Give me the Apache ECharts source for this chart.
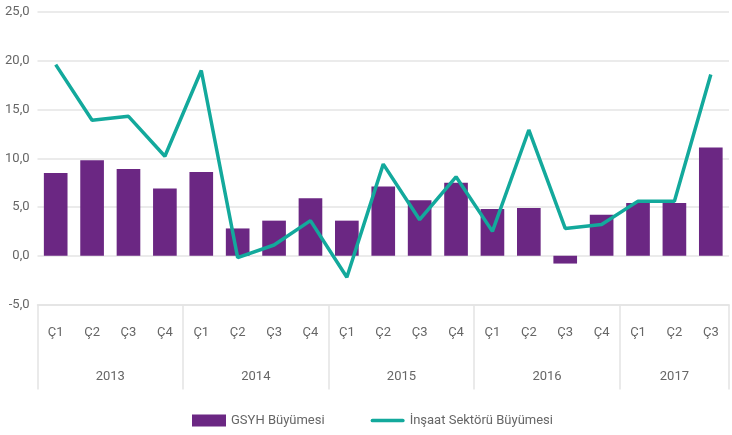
<!DOCTYPE html>
<html>
<head>
<meta charset="utf-8">
<script src="https://cdn.jsdelivr.net/npm/echarts@6/dist/echarts.min.js"></script>
<style>
  html, body { margin: 0; padding: 0; background: #fff; }
  #chart { width: 732px; height: 435px; }
</style>
</head>
<body>
<div id="chart"></div>
<script>
const quarters = ['Ç1', 'Ç2', 'Ç3', 'Ç4', 'Ç1', 'Ç2', 'Ç3', 'Ç4', 'Ç1', 'Ç2', 'Ç3', 'Ç4',
  'Ç1', 'Ç2', 'Ç3', 'Ç4', 'Ç1', 'Ç2', 'Ç3']
const years = ['2013', '2014', '2015', '2016', '2017']
const quartersPerYear = [4, 4, 4, 4, 3]
const gdpGrowth = [8.5, 9.8, 8.9, 6.9, 8.6, 2.8, 3.6, 5.9, 3.6, 7.1, 5.7, 7.5,
  4.8, 4.9, -0.8, 4.2, 5.4, 5.4, 11.1]
const constructionGrowth = [19.6, 13.9, 14.3, 10.2, 19.0, -0.2, 1.1, 3.6, -2.2, 9.4, 3.7, 8.1,
  2.5, 12.9, 2.8, 3.2, 5.6, 5.6, 18.6]
const yTicks = [-5, 0, 5, 10, 15, 20, 25]

const font = "Roboto, 'Liberation Sans Narrow', sans-serif"
const textColor = '#666666'
const gridColor = '#e4e4e4'

// year label sits in the middle of its quarters
let yearCenters = {}
let start = 0
quartersPerYear.forEach((n, i) => {
  yearCenters[(start + (n - 1) / 2).toFixed(1)] = years[i]
  start += n
})

const chart = echarts.init(document.getElementById('chart'))
const option = {
  animation: false,
  textStyle: { fontFamily: font },
  grid: { left: 37.5, right: -9.6, top: 12, bottom: 130.5, containLabel: false },
  legend: {
    left: 192,
    top: 414,
    padding: 0,
    itemWidth: 34,
    itemHeight: 12,
    itemGap: 46,
    textStyle: { color: textColor, fontSize: 13, fontFamily: font },
    data: [
      { name: 'GSYH Büyümesi', icon: 'rect' },
      { name: 'İnşaat Sektörü Büyümesi', icon: 'path://M2,0 L35,0 A2,2 0 0 1 35,4 L2,4 A2,2 0 0 1 2,0 Z' },
    ],
  },
  xAxis: [
    {
      type: 'category',
      data: quarters,
      boundaryGap: true,
      axisLine: { onZero: false, lineStyle: { color: gridColor, width: 1.5 } },
      axisTick: {
        show: true,
        length: 85,
        interval: (index) => index % 4 === 0,
        lineStyle: { color: gridColor, width: 1.5 },
      },
      axisLabel: { color: textColor, fontSize: 13, margin: 22, interval: 0 },
    },
    {
      type: 'value',
      position: 'bottom',
      min: -0.5,
      max: quarters.length - 0.5,
      interval: 0.5,
      axisLine: { show: false },
      axisTick: { show: false },
      splitLine: { show: false },
      axisLabel: {
        color: textColor,
        fontSize: 13,
        margin: 66,
        showMinLabel: true,
        showMaxLabel: true,
        formatter: (v) => yearCenters[v.toFixed(1)] || '',
      },
    },
  ],
  yAxis: {
    type: 'value',
    min: yTicks[0],
    max: yTicks[yTicks.length - 1],
    interval: 5,
    axisLine: { show: false },
    axisTick: { show: false },
    splitLine: { lineStyle: { color: gridColor, width: 1.5 } },
    axisLabel: {
      color: textColor,
      fontSize: 13,
      margin: 8,
      formatter: (v) => v.toFixed(1).replace('.', ','),
    },
  },
  series: [
    {
      name: 'GSYH Büyümesi',
      type: 'bar',
      data: gdpGrowth,
      barWidth: '65%',
      itemStyle: { color: '#6b2783' },
    },
    {
      name: 'İnşaat Sektörü Büyümesi',
      type: 'line',
      data: constructionGrowth,
      symbol: 'none',
      itemStyle: { color: '#13a99c' },
      lineStyle: { color: '#13a99c', width: 3.5 },
    },
  ],
}
chart.setOption(option)
</script>
</body>
</html>
